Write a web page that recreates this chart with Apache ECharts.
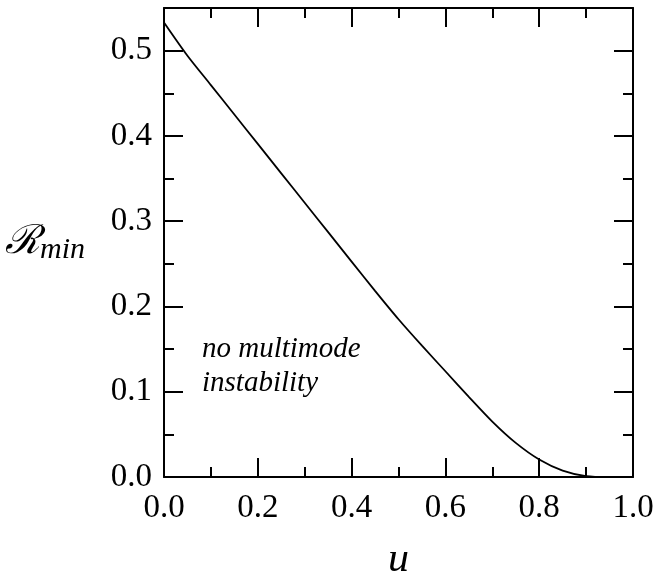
<!DOCTYPE html>
<html>
<head>
<meta charset="utf-8">
<script src="https://cdn.jsdelivr.net/npm/echarts@6/dist/echarts.min.js"></script>
<style>html,body{margin:0;padding:0;background:#fff}#c{width:656px;height:572px}</style>
</head>
<body>
<div id="c"></div>
<script>
const uValues = [0, 0.05, 0.1, 0.15, 0.2, 0.25, 0.3, 0.35, 0.4, 0.45, 0.5, 0.55, 0.6, 0.65, 0.7, 0.75, 0.8, 0.85, 0.9, 0.95, 1.0];
const rminValues = [0.533, 0.494, 0.4596, 0.4251, 0.3906, 0.3561, 0.3216, 0.2871, 0.2526, 0.2183, 0.185, 0.154, 0.124, 0.094, 0.065, 0.040, 0.0205, 0.0075, 0.001, 0, 0];
const annotationLines = ['no multimode', 'instability'];

const serif = '"Liberation Serif", "Times New Roman", serif';
const chart = echarts.init(document.getElementById('c'), null, {renderer: 'canvas'});
const axisLine = {show: true, onZero: false, lineStyle: {color: '#000', width: 2}};
const majorTick = {show: true, inside: true, length: 19, lineStyle: {color: '#000', width: 2}};
const minorTick = {show: true, splitNumber: 2, length: 10, lineStyle: {color: '#000', width: 2}};
const fmt = v => (Math.abs(v * 10 - Math.round(v * 10)) < 1e-6 ? v.toFixed(1) : '');

chart.setOption({
  animation: false,
  backgroundColor: '#fff',
  grid: {left: 164, right: 23, top: 8, bottom: 95, containLabel: false, outerBoundsMode: 'none'},
  xAxis: [{
    type: 'value', min: 0, max: 1, interval: 0.2, position: 'bottom',
    axisLine, axisTick: majorTick, minorTick, splitLine: {show: false},
    axisLabel: {color: '#000', fontFamily: serif, fontSize: 33, margin: 15, formatter: fmt},
    name: 'u', nameLocation: 'middle', nameGap: 62,
    nameTextStyle: {color: '#000', fontFamily: serif, fontStyle: 'italic', fontSize: 42}
  }, {
    type: 'value', min: 0, max: 1, interval: 0.2, position: 'top',
    axisLine, axisTick: majorTick, minorTick, splitLine: {show: false},
    axisLabel: {show: false}
  }],
  yAxis: [{
    type: 'value', min: 0, max: 0.55, interval: 0.1, position: 'left',
    axisLine, axisTick: majorTick, minorTick, splitLine: {show: false},
    axisLabel: {color: '#000', fontFamily: serif, fontSize: 33, margin: 12, formatter: fmt, showMaxLabel: false},
    name: '{r|ℛ}{s|min}', nameLocation: 'middle', nameRotate: 0, nameGap: 79,
    nameTextStyle: {
      color: '#000',
      rich: {
        r: {fontFamily: '"DejaVu Serif", serif', fontStyle: 'italic', fontSize: 40, color: '#000'},
        s: {fontFamily: serif, fontStyle: 'italic', fontSize: 30, color: '#000', padding: [16, 0, 0, 0]}
      }
    }
  }, {
    type: 'value', min: 0, max: 0.55, interval: 0.1, position: 'right',
    axisLine, axisTick: majorTick, minorTick, splitLine: {show: false},
    axisLabel: {show: false}
  }],
  graphic: [{
    type: 'text', left: 202, top: 332,
    style: {text: annotationLines.join('\n'), font: 'italic 29px ' + serif, fill: '#000', lineHeight: 34}
  }],
  series: [{
    type: 'line', xAxisIndex: 0, yAxisIndex: 0,
    data: uValues.map((u, i) => [u, rminValues[i]]),
    showSymbol: false, smooth: 0.25,
    lineStyle: {color: '#000', width: 1.8}
  }]
});
</script>
</body>
</html>
